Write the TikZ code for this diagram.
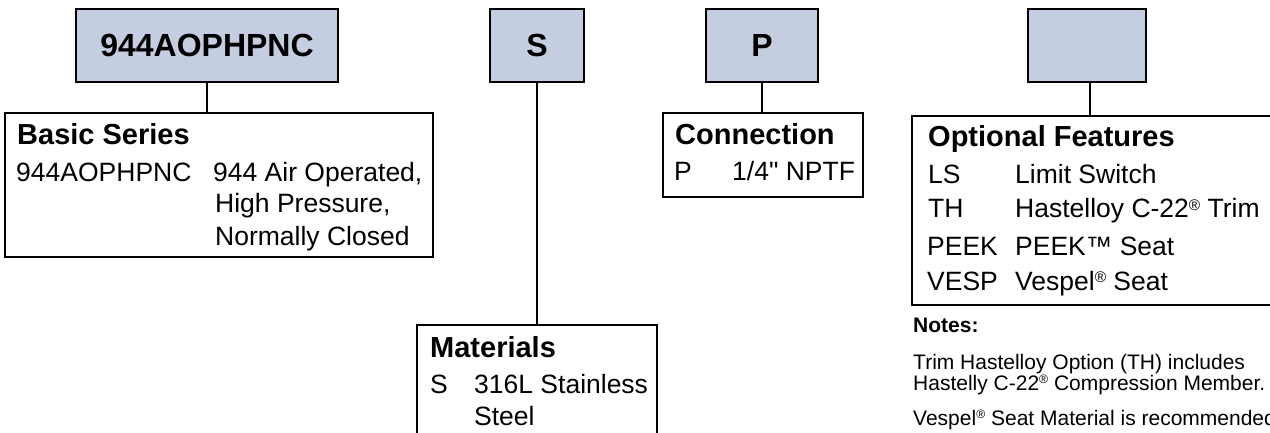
\documentclass[tikz,border=0pt]{standalone}
\usepackage{fontspec}
\setmainfont{Liberation Sans}
\definecolor{hdrfill}{RGB}{197,205,224}
\newcommand\regmark{\raisebox{0.3em}{\scalebox{0.58}{®}}}
\begin{document}
\begin{tikzpicture}[x=1pt,y=-1pt,
  hdr/.style={draw, line width=2.6pt, fill=hdrfill, inner sep=0pt, font=\bfseries\fontsize{32}{36}\selectfont},
  infobox/.style={draw, line width=2.4pt, inner sep=0pt},
  conn/.style={line width=2.4pt},
  txt/.style={anchor=base west, inner sep=0pt, font=\fontsize{26.5}{30}\selectfont},
  ttl/.style={anchor=base west, inner sep=0pt, font=\bfseries\fontsize{29}{32}\selectfont},
  notetxt/.style={anchor=base west, inner sep=0pt, align=left, font=\fontsize{21}{19.5}\selectfont},
  notettl/.style={anchor=base west, inner sep=0pt, font=\bfseries\fontsize{21}{22}\selectfont}]
\useasboundingbox (0,0) rectangle (1270,433);
\clip (0,0) rectangle (1270,433);
\fill[white] (0,0) rectangle (1270,433);

% header boxes
\node[hdr, minimum width=262pt, minimum height=73pt] (h1) at (207,45.5) {944AOPHPNC};
\node[hdr, minimum width=94pt, minimum height=73pt] (h2) at (537,45.5) {S};
\node[hdr, minimum width=112pt, minimum height=73pt] (h3) at (762,45.5) {P};
\node[hdr, minimum width=118pt, minimum height=73pt] (h4) at (1087,45.5) {};

% info boxes
\node[infobox, minimum width=428pt, minimum height=144pt] (b1) at (219,185) {};
\node[infobox, minimum width=240pt, minimum height=135pt] (b2) at (537,392.5) {};
\node[infobox, minimum width=200pt, minimum height=84pt] (b3) at (763,155) {};
\node[infobox, minimum width=388pt, minimum height=189pt] (b4) at (1106,210.5) {};

% connectors
\draw[conn] (h1.south) -- (h1.south |- b1.north);
\draw[conn] (h2.south) -- (h2.south |- b2.north);
\draw[conn] (h3.south) -- (h3.south |- b3.north);
\draw[conn] ([xshift=3pt]h4.south) -- ([xshift=3pt]h4.south |- b4.north);

% Basic Series
\node[ttl] (t1) at (17,145) {Basic Series};
\node[txt] (t1a) at (16,182) {944AOPHPNC};
\node[txt] (t1b) at (213,182) {944 Air Operated,};
\node[txt] (t1c) at (215,213) {High Pressure,};
\node[txt] (t1d) at (215,245) {Normally Closed};

% Materials
\node[ttl] (t2) at (430,357) {Materials};
\node[txt] (t2a) at (430,393) {S};
\node[txt] (t2b) at (474,393) {316L Stainless};
\node[txt] (t2c) at (474,425) {Steel};

% Connection
\node[ttl] (t3) at (675,145) {Connection};
\node[txt] (t3a) at (674,181) {P};
\node[txt] (t3b) at (732,181) {1/4\textquotedbl{} NPTF};

% Optional Features
\node[ttl] (t4) at (928,147) {Optional Features};
\node[txt] (t4a) at (928,183) {LS};
\node[txt] (t4b) at (1015,183) {Limit Switch};
\node[txt] (t4c) at (928,218) {TH};
\node[txt] (t4d) at (1015,218) {Hastelloy C-22\regmark{} Trim};
\node[txt] (t4e) at (927,255) {PEEK};
\node[txt] (t4f) at (1015,255) {PEEK™ Seat};
\node[txt] (t4g) at (927,290) {VESP};
\node[txt] (t4h) at (1015,290) {Vespel\regmark{} Seat};

% Notes
\node[notettl] (n0) at (913,332) {Notes:};
\node[notetxt] (n1) at (913,390) {Trim Hastelloy Option (TH) includes\\Hastelly C-22\regmark{} Compression Member.};
\node[notetxt] (n3) at (913,425) {Vespel\regmark{} Seat Material is recommended};
\end{tikzpicture}
\end{document}
